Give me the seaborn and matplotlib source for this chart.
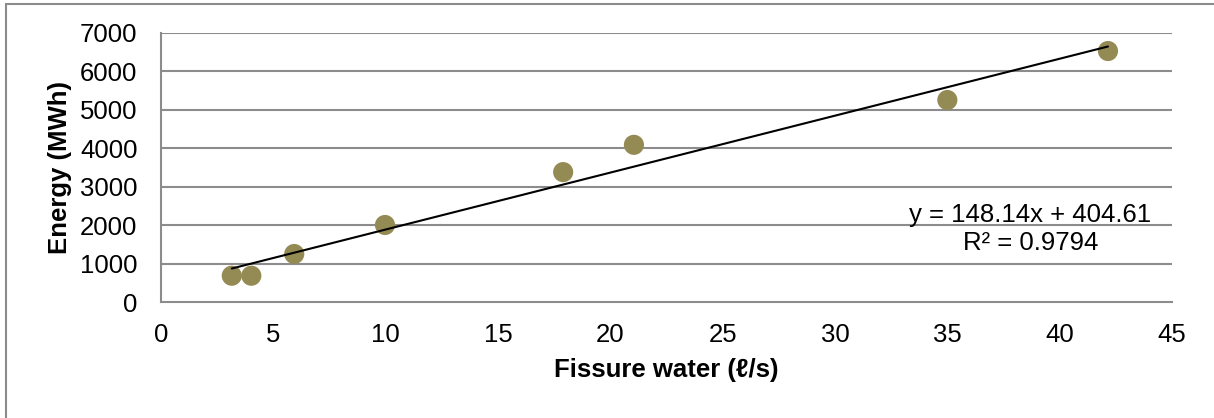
import matplotlib
matplotlib.use("Agg")
import matplotlib.pyplot as plt
import seaborn as sns
import numpy as np
import pandas as pd
from matplotlib.patches import Rectangle

fissure_water = [3.15, 4.02, 5.93, 9.97, 17.9, 21.05, 35.0, 42.15]
energy = [684, 684, 1249, 2004, 3380, 4090, 5256, 6531]
slope = 148.14
intercept = 404.61
r_squared = 0.9794
x_ticks = [0, 5, 10, 15, 20, 25, 30, 35, 40, 45]
y_ticks = [0, 1000, 2000, 3000, 4000, 5000, 6000, 7000]

df = pd.DataFrame({"x": fissure_water, "y": energy})

sns.set_style("white")
plt.rcParams['font.family'] = ['Liberation Sans', 'DejaVu Sans']
plt.rcParams['text.color'] = 'black'
plt.rcParams['axes.labelcolor'] = 'black'

W, H = 1214, 418
fig = plt.figure(figsize=(W / 100, H / 100), dpi=100)
ax = fig.add_axes([161 / W, (H - 302) / H, (1172 - 161) / W, (302 - 33) / H])

grid_c = "#8c8c8c"
for yv in y_ticks[1:]:
    ax.axhline(yv, color=grid_c, lw=1.5, zorder=0)

sns.scatterplot(data=df, x="x", y="y", ax=ax, s=210, color="#948a54",
                edgecolor="none", zorder=3, legend=False)

xs = np.array([min(fissure_water), max(fissure_water)])
ax.plot(xs, slope * xs + intercept, color="black", lw=1.5, zorder=4)

FS = 18.5
ax.set_xlim(0, 45)
ax.set_ylim(0, 7000)
ax.set_xticks(x_ticks)
ax.set_yticks(y_ticks)
ax.tick_params(axis="both", labelsize=FS, colors=grid_c, labelcolor="black",
               length=6, width=1.5, direction="out")
ax.tick_params(axis="y", pad=11)
ax.tick_params(axis="x", pad=9)
for side in ["top", "right"]:
    ax.spines[side].set_visible(False)
for side in ["left", "bottom"]:
    ax.spines[side].set_color(grid_c)
    ax.spines[side].set_linewidth(1.5)

ax.set_xlabel("Fissure water (ℓ/s)", fontsize=FS, fontweight="bold",
              labelpad=8, color="black")
ax.set_ylabel("Energy (MWh)", fontsize=FS, fontweight="bold",
              labelpad=6, color="black")

ax.text(38.7, 1900, f"y = {slope}x + {intercept}\nR² = {r_squared}",
        ha="center", va="center", multialignment="center", fontsize=FS,
        linespacing=1.25, zorder=5, color="black")

fig.patches.append(Rectangle((6 / W, -0.1), 1.2, (H - 4) / H + 0.1,
                             transform=fig.transFigure, fill=False,
                             edgecolor="#8c8c8c", lw=1.5))

fig.savefig("out.png", dpi=100)
